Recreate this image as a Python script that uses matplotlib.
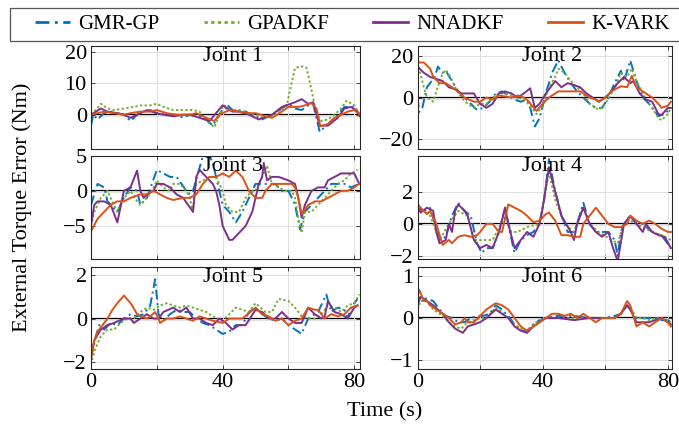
import numpy as np
import matplotlib
matplotlib.use('Agg')
import matplotlib.pyplot as plt
from matplotlib.lines import Line2D
from matplotlib.patches import Rectangle

# Данные: (время, ошибка) для каждого сустава и метода
methods = ['GMR-GP', 'GPADKF', 'NNADKF', 'K-VARK']
colors = ['#0072BD', '#77AC30', '#7E2F8E', '#D95319']
styles = [(0, (5, 2, 1, 2)), (0, (1.2, 1.2)), '-', '-']

j1_gmr = [(0, -3.5), (0.7, 0), (2, -1.5), (4, 0.5), (6, 1), (8, 0.5), (10, 0), (12, -2), (14, 0), (16, 1),
          (18, 1.5), (20, 0.5), (23, 0), (26, 0), (28, -1), (30, 0), (33, -0.5), (35, -1.5), (37, -3.5),
          (39, 0), (41, 3.5), (43, 1.5), (44, 1), (46, 1.5), (49, 0), (52, -1.5), (55, 0), (58, 2),
          (60, 3.5), (62, 2), (64, 1.5), (66, 3), (67.5, 3.5), (69.5, -5.5), (72, -3), (75, 0),
          (77, 2.5), (80, 2.5), (81.7, -0.5)]
j1_gpa = [(0, 0), (1.5, 1.5), (3, 3.5), (5, 2), (7, 1.5), (10, 2), (13, 2.5), (15, 3), (18, 3),
          (20, 3.5), (22, 2.5), (25, 1.5), (28, 1.5), (31, 1.5), (33, 1), (35, -2), (37.5, -4),
          (40, 2.5), (42, 1.5), (45, 1.5), (48, 0.5), (50, 0), (52, -1), (55, -0.5), (57, 1),
          (59.5, 3), (60.5, 8), (62, 15), (64, 15.5), (65.5, 15), (67, 8), (68.5, 0), (70, -2),
          (72, -1.5), (74, 0), (76, 2), (77.7, 4.5), (80, 3), (81.7, 0)]
j1_nna = [(0, 0), (1.5, 1), (3, 2), (5, 1), (8, 0.5), (10, 0), (12, -1), (15, 0.5), (17, 1.5),
          (20, 0.5), (22, 0), (25, -0.5), (28, 0), (30, 0), (33, -1), (36, -2), (38, 0.5), (40, 3),
          (43, 1), (45, 1), (48, 0), (51, -1.5), (55, 0), (58, 2.5), (62, 4), (64, 5), (66, 3.5),
          (67.5, 4), (69.5, -3.5), (72, -3.5), (75, -1), (77, 2), (79, 2.5), (81, 1), (81.7, -0.5)]
j1_kva = [(0, 0), (2, 0.5), (4, 1), (7, 0.5), (10, 0), (12, 0.5), (15, 1), (18, 1), (20, 1.5),
          (23, 0.5), (26, 0), (30, 0), (32, 0.5), (35, -1), (37.5, -2), (39, 0), (42, 1.5), (45, 1),
          (48, 0.5), (50, 0.5), (53, -0.5), (55, -1), (58, 1), (60, 2.5), (63, 2.5), (65, 3),
          (67, 3.7), (68.5, 2), (69.7, -3.7), (72, -3), (74, -1), (76, 0), (78, 1), (80, 1.5),
          (81.7, 0)]

j2_gmr = [(0, 0), (0.5, -7), (1.5, -5), (3, 5), (5.5, 10), (6.5, 15), (8, 12), (9, 13), (11, 8),
          (13, 3), (15, 0), (17, -3), (19, -6), (21, -5), (23, -2), (25, 2), (27, 3), (29, 1),
          (31, -1), (33, -2), (35, -1), (36, -5), (37.5, -14), (39, -10), (41, 2), (43, 12),
          (45, 18), (47, 12), (49, 7), (51, 3), (53, 0), (55, -3), (57, -5), (59, -5), (61, 0),
          (63, 7), (65, 13), (66, 8), (68, 18), (70, 8), (72, 0), (74, -3), (75, -5), (77, -9),
          (79, -8), (81, -5)]
j2_gpa = [(0, 17), (2, 5), (3, 0), (5, -2), (6, 3), (7.5, 10), (9, 13.5), (10.5, 10), (12, 5),
          (14, 0), (16, -3), (18, -5), (20, -3), (22, -3), (24, 0), (26, 2), (28, 2), (30, 1),
          (32, 0), (34, -1), (36, -4), (38, -8), (40, -4), (42, 5), (44, 10), (45, 14), (47, 12),
          (49, 8), (51, 5), (53, 2), (55, -3), (57, -5), (58, -6), (60, -3), (62, 2), (64, 8),
          (65, 12), (67, 10), (68.5, 14), (70, 8), (72, 2), (74, -3), (75, -5), (77, -10),
          (78, -11), (80, -8), (81, -5)]
j2_nna = [(0, 15), (2, 12), (4, 10), (6, 9), (8, 8), (10, 5), (12, 4), (14, 2), (16, 2), (18, 2),
          (20, -3), (22, -5), (24, -3), (26, 2), (28, 3), (30, 2), (32, 0), (34, 2), (36, 4.5),
          (37.5, -5), (39, -3), (41, 2), (44, 8), (46, 5), (48, 7), (50, 6), (52, 5), (54, 2),
          (56, 0), (58, -2), (60, 0), (62, 3), (64, 7), (66, 10), (68, 7), (69, 8), (71, 2),
          (73, -1), (75, -2), (77, -8), (78, -8.5), (80, -5), (81, -5)]
j2_kva = [(0, 17), (2, 17), (4, 14), (5, 10), (7, 7), (9, 7), (10, 6), (12, 4), (15, 0), (18, -2),
          (20, -2), (22, 0), (24, -1), (26, 1), (30, 0), (32, 1), (34, 0), (35, -1), (38, -6.5),
          (40, -3), (42, 0), (45, 3), (50, 3), (52, 3), (55, 0), (57, -1), (58, -2), (60, 0),
          (62, 3), (65, 5.5), (67, 5), (68.5, 10.5), (70, 5), (72, 3), (75, 0), (77, -3),
          (78, -5), (80, -4), (81, -2)]

j3_gmr = [(0, -2), (2, 1), (4, 0.5), (5, -1.5), (7, -2.5), (8, -3), (10, -1), (12, 0.5), (14, 0),
          (15, -2), (17, -1), (20, 3), (22, 2.5), (24, 2), (26, 2), (27.5, 1), (29, 0), (30, -0.5),
          (31, 0), (34, 5), (36, 5), (37, 4), (39, 0), (40, -2), (42, -3), (44, -4.5), (46, -3),
          (48, -1), (50, 1), (52, 1), (54, 1), (56, 1), (58, 0), (60, 0), (61, -1), (62, -2),
          (63.5, -5.5), (65, -3), (67, -2), (69, -1), (71, 0), (73, 1), (75, 1), (77, 1),
          (79, 0.5), (81.5, 1)]
j3_gpa = [(0, -5), (1, -3), (3, -1), (5, 0), (6, -1), (8, -3), (10, -1), (12, 0), (14, -1.5),
          (15, -2), (17, -1), (18.5, 0), (20, 1.5), (22, 0.5), (24, 0), (25, 1), (27, 1), (29, 0),
          (30, -1), (31, -3), (31.5, 0), (32, 1), (34, 1.5), (36, 2), (38, 2), (40, 0), (41, -2),
          (43, -3), (45, -3), (47, -1), (49, 0), (50, 0), (51, 1), (53.5, 3.6), (55, 1),
          (57, 0.5), (59, 0), (61, 0), (62, -1), (63, -4), (64, -6), (65, -3), (67, -3),
          (69, -2), (71, -1), (73, 0), (75, 1), (77, 1.5), (79, 2.5), (81, 3)]
j3_nna = [(0, -5), (1, -2), (2, -1.5), (4, -1.5), (6, -2), (8, -4.5), (10, 0), (12, 0.5),
          (14, 2.9), (15, 0), (16, -1), (17, -0.5), (19, 0), (20, 1), (22, 1), (24, 0.5),
          (26, -0.5), (28, -1), (31, -3), (32, 2), (33, 3), (35, 2), (37, 1), (38, 0), (39, -2),
          (40, -5), (42, -7), (43, -7), (45, -6), (47, -5), (49, -3), (50, -1), (51, 1), (52, 2),
          (52.5, 4), (53.5, 1.5), (55, 2), (57, 2), (60, 1.5), (62, 1), (63, -1), (64, -3.8),
          (65, -2), (66, -1), (67, 0), (69, 0.5), (71, 0.5), (72, 1.5), (74, 2), (76, 2.5),
          (78, 2.5), (80, 2.5), (81.5, 1)]
j3_kva = [(0, -5.8), (2, -4), (4, -3), (6, -2), (8, -1.5), (10, -1.5), (12, -1), (15, -0.5),
          (17, -0.5), (19, 0), (21, -0.5), (23, -1), (25, -1.3), (28, -1), (30, -1), (32, -0.5),
          (34, 1), (36, 2), (38, 2), (40, 2.5), (42, 2), (44, 2.9), (46, 2), (48, 0), (50, -1),
          (52, -1), (53, 0), (55, 1), (57, 1), (59, 1), (61, 1), (62, 0.5), (63, -1), (64, -3.3),
          (66, -2), (68, -1.5), (70, -1.5), (72, -1), (74, -0.5), (76, 0), (78, 0), (80, 0.5),
          (81.5, 1)]

j4_gmr = [(0, 1), (2, 0.8), (4, 1), (5.5, 0), (7, -1), (9, -0.8), (11, 0.5), (13, 1.3), (15, 0.8),
          (17, 0.5), (19, -1.2), (20.5, -1.8), (22, -1.5), (24, -1.5), (26, -0.5), (28, 1),
          (29.5, -0.5), (31, -1.8), (33, -1), (35, -0.7), (37, -0.5), (39, 0), (40.5, 1.5),
          (42, 4), (44, 2), (46, 0.5), (48, -0.5), (50, -0.5), (51, 0), (53, 1.3), (55, 0),
          (57, -0.5), (59, -0.5), (61, -0.5), (63, -1), (64, -2), (65, -0.5), (66, 0), (68, 0.5),
          (70, 0), (72, 0), (75, -0.5), (78, -0.7), (81, -1.5)]
j4_gpa = [(0, 1), (2, 0.8), (4, 0.5), (7, -1), (10, 0), (13, 0.8), (16, 0.5), (18, -1), (20, -1),
          (24, -1), (28, 0.5), (30, -0.5), (32, -0.5), (35, -0.2), (39, 0), (42, 3.2), (44, 1.5),
          (47, 0), (50, -0.5), (53, 1), (55, 0), (58, -0.5), (62, -1), (64, -1.2), (66, 0),
          (68, 0.2), (70, 0), (75, -0.5), (78, -0.7), (81, -1)]
j4_nna = [(0, 1), (1, 0.7), (3, 1), (5, 0.8), (6, -0.5), (7, -1.2), (9, -1), (10, 0), (11, -0.5),
          (12, 0.8), (13, 1.2), (15, 0.8), (16, 0.5), (18, -1), (20, -1.5), (22, -1.3), (24, -1.5),
          (26, -0.5), (28, 1), (29, 0), (31, -1.5), (33, -1), (35, -0.5), (37, -0.8), (39, 0),
          (40, 1), (42, 3.5), (44, 2), (46, 0.5), (47.5, 0), (49, -0.5), (50, -1), (51, 0),
          (53, 1), (55, 0), (57, -0.5), (59, -0.8), (61, -0.5), (62.5, -1.5), (64, -2.3), (66, 0),
          (68, 0.5), (70, 0), (72, -0.5), (73, 0), (75, -0.5), (77, -0.7), (79, -0.8), (81, -1.5)]
j4_kva = [(0, 1.2), (2, 0.8), (3, 0.6), (4, 0.8), (6, 0), (8, -1.3), (10, -1), (11, -1.2),
          (13, -0.8), (15, -0.7), (17, -0.8), (19, -0.7), (20, -0.5), (22, 0), (24, 0),
          (26, -0.5), (27, -0.5), (29, 1.2), (31, 1), (33, 0.8), (35, 0.5), (37, 0.1), (39, 0.2),
          (41, 0.6), (42, 0.7), (44, 0.2), (46, -0.7), (48, -0.7), (50, -0.8), (52, -0.8),
          (53, 0), (55, 0.5), (57, 1), (59, 0.5), (61, 0), (63, -0.2), (65, -0.2), (67, 0),
          (68, 0.5), (70, 0.2), (72, 0), (74, 0.2), (76, 0), (78, -0.3), (80, -0.5), (81, -0.5)]

j5_gmr = [(0, -1.8), (1.5, -0.8), (2.5, -0.3), (4, -0.5), (6, -0.2), (8, -0.3), (10, 0), (12, 0.2),
          (14, 0.1), (16, 0.2), (18, 0.6), (19.5, 1.8), (20.5, 0.2), (22, -0.1), (24, 0.2),
          (26, 0.4), (28, 0.3), (30, 0.3), (32, 0), (34, -0.2), (36, -0.3), (38, -0.5), (40, -0.7),
          (42, -0.6), (44, -0.3), (46, -0.3), (48, 0.3), (50, 0.5), (52, 0.2), (54, 0), (56, -0.1),
          (58, 0), (60, -0.3), (62, -0.5), (64, -0.7), (66, 0), (68, 0.2), (69, 0.3), (71.5, 1.1),
          (73, 0.3), (75, 0.5), (77, 0.4), (78, 0), (79, 0.5), (81, 0.9)]
j5_gpa = [(0, -2.1), (1, -1.5), (3, -0.8), (5, -0.5), (7, -0.5), (9, -0.2), (11, 0), (13, 0),
          (15, 0.3), (17, 0.5), (19, 0.4), (21, 0.6), (23, 0.7), (25, 0.6), (27, 0.5), (29, 0.6),
          (31, 0.5), (33, 0.4), (35, 0.3), (37, 0.1), (40, -0.1), (42, 0.2), (44, 0.5), (46, 0.4),
          (48, 0.3), (50, 0.7), (53, 0.3), (55, 0.3), (57, 0.9), (60, 0.8), (62, 0.5), (64, 0.1),
          (66, 0), (68, 0), (70, 0.2), (72, 0.6), (74, 0.5), (76, 0.3), (78, 0.6), (80, 0.7),
          (81.5, 1.1)]
j5_nna = [(0, -1.7), (1, -1), (3, -0.5), (5, -0.3), (7, -0.2), (10, 0), (12, 0), (13, -0.2),
          (15, 0), (17, 0.2), (19, 0), (20.5, 0), (22, 0.3), (25, 0.5), (27, 0.3), (29, 0.5),
          (31, 0), (33, 0), (35, -0.2), (37, -0.3), (39, 0), (41, -0.2), (43, -0.5), (45, -0.3),
          (47, -0.3), (50, 0.4), (52, 0.3), (54, 0), (56, 0), (58, 0.3), (60, 0), (62, -0.2),
          (64, -0.2), (66, 0.5), (68, 0.2), (70, 0), (71, 0.1), (72, 0.8), (74, 0.3), (76, 0.2),
          (78, 0), (80, 0.5), (81, 0.6)]
j5_kva = [(0, -1.8), (1, -1), (2, -0.6), (3, -0.4), (4.5, -0.1), (5, 0), (6.5, 0.4), (8, 0.7),
          (10, 1.05), (11.5, 0.8), (12.5, 0.6), (14, 0.2), (15, 0.1), (17, 0), (18, 0.1),
          (19.5, 0.3), (20.5, 0), (21, -0.2), (23, 0), (25, 0), (27, 0.1), (29, 0), (31, -0.1),
          (33, 0.1), (35, 0), (37, -0.1), (40, -0.2), (42, 0), (44, 0), (46, 0), (50, 0.5),
          (52, 0.2), (54, 0.1), (56, -0.1), (58, 0), (60, -0.3), (62, -0.1), (64, 0), (66, 0.5),
          (68, 0.4), (69, 0.4), (71, 0), (73, 0.2), (75, 0.1), (77, 0.2), (79, 0.5), (81, 0.6)]

j6_gmr = [(0, 0.3), (1, 0.5), (3, 0.45), (5, 0.4), (7, 0.2), (9, 0.05), (11, 0), (13, -0.1),
          (15, -0.1), (17, 0), (19, 0.05), (21, 0.05), (23, 0.1), (25, 0.3), (27, 0.2), (29, 0.05),
          (31, -0.15), (33, -0.3), (35, -0.3), (37, -0.15), (39, -0.05), (41, 0), (45, 0.05),
          (50, 0.05), (55, 0), (60, 0), (63, 0.05), (65, 0.1), (67, 0.3), (68, 0.2), (70, 0),
          (72, 0), (74, 0), (76, 0), (78, -0.05), (80, -0.05), (81, -0.1)]
j6_gpa = [(0, 0.2), (1, 0.4), (3, 0.4), (5, 0.2), (8, 0.05), (10, -0.1), (12, -0.2), (14, -0.25),
          (16, -0.1), (18, -0.05), (20, 0), (22, 0), (25, 0.25), (27, 0.15), (29, 0), (31, -0.15),
          (33, -0.25), (35, -0.3), (37, -0.15), (39, -0.05), (41, 0), (45, 0), (50, 0), (55, 0),
          (60, 0), (63, 0), (65, 0.1), (67, 0.3), (68, 0.25), (70, 0), (72, 0), (74, -0.05),
          (76, 0), (78, 0), (80, -0.05), (81, -0.1)]
j6_nna = [(0, 0.4), (1, 0.5), (3, 0.4), (5, 0.3), (8, 0.1), (10, -0.1), (12, -0.25), (14.5, -0.35),
          (16, -0.2), (18, -0.15), (20, -0.1), (22, 0), (25, 0.2), (27, 0.1), (29, 0), (31, -0.2),
          (33, -0.3), (35, -0.35), (37, -0.2), (39, -0.1), (41, 0), (45, 0), (50, -0.05), (55, 0),
          (60, 0), (63, 0), (65, 0.1), (67, 0.3), (68, 0.2), (70, -0.1), (72, -0.1), (74, -0.1),
          (76, -0.05), (78, 0), (80, -0.1), (81, -0.15)]
j6_kva = [(0, 0.5), (0.5, 0.67), (2, 0.4), (3, 0.4), (4, 0.3), (6, 0.2), (8, 0.1), (10, 0),
          (12, -0.15), (14, -0.1), (15, 0), (16, -0.1), (18, -0.1), (22, 0.2), (25, 0.35),
          (27, 0.3), (29, 0.2), (31, 0), (33, -0.2), (35, -0.3), (37, -0.2), (39, -0.1), (41, 0),
          (43, 0.1), (45, 0.1), (47, 0.05), (49, 0.1), (51, 0), (53, 0.1), (55, 0), (57, -0.1),
          (59, 0), (61, 0), (63, 0), (65, 0.1), (67, 0.4), (68, 0.3), (70, -0.2), (72, -0.1),
          (74, -0.2), (76, -0.1), (78, 0), (80, -0.1), (81, -0.2)]

joints = [
    ('Joint 1', [j1_gmr, j1_gpa, j1_nna, j1_kva], (-11, 22), [0, 10, 20]),
    ('Joint 2', [j2_gmr, j2_gpa, j2_nna, j2_kva], (-25, 25), [-20, 0, 20]),
    ('Joint 3', [j3_gmr, j3_gpa, j3_nna, j3_kva], (-9.8, 5), [-5, 0, 5]),
    ('Joint 4', [j4_gmr, j4_gpa, j4_nna, j4_kva], (-2.2, 4.2), [-2, 0, 2]),
    ('Joint 5', [j5_gmr, j5_gpa, j5_nna, j5_kva], (-2.3, 2.35), [-2, 0, 2]),
    ('Joint 6', [j6_gmr, j6_gpa, j6_nna, j6_kva], (-1.2, 1.2), [-1, 0, 1]),
]

plt.rcParams['font.family'] = ['Liberation Serif', 'DejaVu Serif']
plt.rcParams['font.size'] = 16

fig = plt.figure(figsize=(6.79, 4.26), dpi=100)

lefts = [0.134, 0.615]
widths = [0.396, 0.374]
xmax = [81.7, 81.2]
bottoms = [0.650, 0.391, 0.134]
heights = [0.242, 0.243, 0.239]

for k, (title, series, ylim, yticks) in enumerate(joints):
    r, c = k // 2, k % 2
    ax = fig.add_axes([lefts[c], bottoms[r], widths[c], heights[r]])
    ax.axhline(0, color='k', lw=1.6, zorder=1.5)
    for s, col, ls in zip(series, colors, styles):
        t, v = zip(*s)
        ax.plot(t, v, color=col, linestyle=ls, lw=1.4, zorder=2)
    ax.set_xlim(0, xmax[c])
    ax.set_ylim(*ylim)
    ax.set_yticks(yticks)
    ax.set_xticks([0, 20, 40, 60, 80])
    if r == 2:
        ax.set_xticklabels(['0', '', '40', '', '80'])
    else:
        ax.set_xticklabels([])
    ax.grid(True, color='#e0e0e0', lw=0.7)
    ax.tick_params(direction='in', length=3, width=0.6, top=True, right=True,
                   colors='#262626', labelcolor='black', pad=3)
    for sp in ax.spines.values():
        sp.set_color('#262626')
        sp.set_linewidth(0.8)
    ax.text(0.53, 0.99, title, transform=ax.transAxes, ha='center', va='top', fontsize=16)

fig.text(0.032, 0.513, 'External Torque Error (Nm)', rotation=90, ha='center', va='center', fontsize=16)
fig.text(0.567, 0.033, 'Time (s)', ha='center', va='center', fontsize=16)

# рамка легенды уходит за правый край, как в оригинале
fig.patches.append(Rectangle((0.0147, 0.904), 1.0, 0.0775, transform=fig.transFigure,
                             fill=False, edgecolor='#555555', lw=0.9, clip_on=False))
handles = [Line2D([], [], color=col, linestyle=ls, lw=2) for col, ls in zip(colors, styles)]
leg = fig.legend(handles, methods, loc='center', bbox_to_anchor=(0.519, 0.943),
                 ncol=4, fontsize=15, frameon=False, handlelength=1.7, handletextpad=0.4,
                 columnspacing=2.1, borderaxespad=0, borderpad=0.1)

fig.savefig('out.png', dpi=100)
